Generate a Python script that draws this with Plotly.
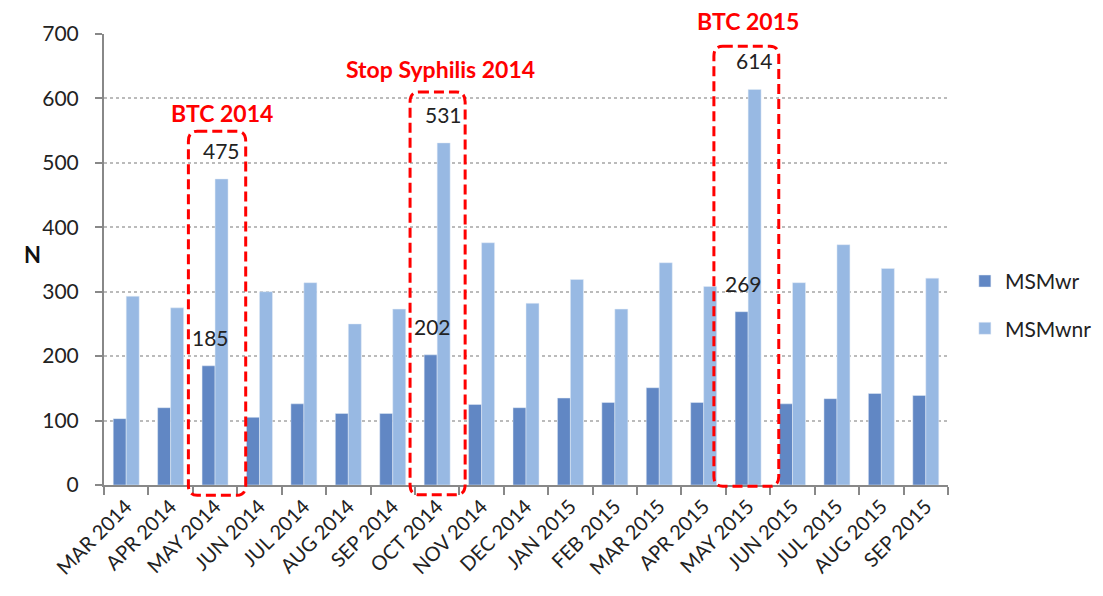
import plotly.graph_objects as go

# ---------------- data ----------------
months = ["MAR 2014", "APR 2014", "MAY 2014", "JUN 2014", "JUL 2014", "AUG 2014",
          "SEP 2014", "OCT 2014", "NOV 2014", "DEC 2014", "JAN 2015", "FEB 2015",
          "MAR 2015", "APR 2015", "MAY 2015", "JUN 2015", "JUL 2015", "AUG 2015",
          "SEP 2015"]
msm_wr = [103, 120, 185, 105, 126, 111, 111, 202, 125, 120, 135, 128,
          151, 128, 269, 126, 134, 142, 139]
msm_wnr = [293, 275, 475, 300, 314, 250, 273, 531, 376, 282, 319, 273,
           345, 308, 614, 314, 373, 336, 321]
y_ticks = [0, 100, 200, 300, 400, 500, 600, 700]

# campaigns highlighted with dashed boxes
campaigns = ["BTC 2014", "Stop Syphilis 2014", "BTC 2015"]
campaign_months = ["MAY 2014", "OCT 2014", "MAY 2015"]

# ---------------- style / layout config ----------------
FONT = "Lato, 'Open Sans', sans-serif"
DARK = "#6187C4"
LIGHT = "#98B9E3"
RED = "#FF0000"
Y_MAX = 700
# box geometry per campaign: (left offset, right offset, top value, bottom value, label y)
box_geo = [(-0.60, 0.69, 549, -16, 578),
           (-0.61, 0.63, 610, -15, 645),
           (-0.77, 0.69, 681, -2, 720)]
label_dx = [0.16, 0.08, 0.0]

fig = go.Figure()
fig.add_trace(go.Bar(x=months, y=msm_wr, name="MSMwr", marker_color=DARK,
                     legendgroup="a"))
fig.add_trace(go.Bar(x=months, y=msm_wnr, name="MSMwnr", marker_color=LIGHT,
                     legendgroup="b"))


def rounded_box(x0, x1, y0, y1, rx, ry):
    return (f"M {x0+rx},{y1} L {x1-rx},{y1} Q {x1},{y1} {x1},{y1-ry} "
            f"L {x1},{y0+ry} Q {x1},{y0} {x1-rx},{y0} L {x0+rx},{y0} "
            f"Q {x0},{y0} {x0},{y0+ry} L {x0},{y1-ry} Q {x0},{y1} {x0+rx},{y1} Z")


shapes = []
annotations = []
BAR_SHIFT = 6.5  # px offset of each bar from category centre
for name, m, geo, dx in zip(campaigns, campaign_months, box_geo, label_dx):
    i = months.index(m)
    l, r, top, bot, ly = geo
    shapes.append(dict(type="path", xref="x", yref="paper",
                       path=rounded_box(i + l, i + r, bot / Y_MAX, top / Y_MAX, 0.2, 0.022),
                       line=dict(color=RED, width=3, dash="10px,5px"),
                       layer="above"))
    annotations.append(dict(x=i + dx, y=ly / Y_MAX, xref="x", yref="paper",
                            text=f"<b>{name}</b>", showarrow=False,
                            font=dict(family=FONT, size=23, color=RED),
                            xanchor="center", yanchor="middle"))
    annotations.append(dict(x=m, y=msm_wr[i], xref="x", yref="y", text=str(msm_wr[i]),
                            showarrow=False, xshift=-BAR_SHIFT + 2, yshift=14,
                            yanchor="bottom", font=dict(family=FONT, size=21, color="#222")))
    annotations.append(dict(x=m, y=msm_wnr[i], xref="x", yref="y", text=str(msm_wnr[i]),
                            showarrow=False, xshift=BAR_SHIFT, yshift=14,
                            yanchor="bottom", font=dict(family=FONT, size=21, color="#222")))

annotations.append(dict(x=-0.097, y=0.51, xref="paper", yref="paper",
                        text="<b>N</b>", showarrow=False,
                        font=dict(family=FONT, size=22, color="#111")))

fig.update_layout(
    width=1087, height=580,
    margin=dict(l=96, r=147, t=26, b=103, autoexpand=False),
    paper_bgcolor="white", plot_bgcolor="white",
    barmode="group", bargap=0.415, bargroupgap=0,
    font=dict(family=FONT, size=20, color="#222"),
    showlegend=True,
    legend=dict(x=1.02, y=0.497, xanchor="left", yanchor="top",
                font=dict(family=FONT, size=21, color="#222"),
                tracegroupgap=17, traceorder="grouped",
                bgcolor="rgba(0,0,0,0)"),
    shapes=shapes, annotations=annotations,
    xaxis=dict(type="category", tickson="boundaries", ticks="outside", ticklen=8,
               tickcolor="#888", tickwidth=2, showline=True, linecolor="#888",
               linewidth=2, tickangle=-45, showgrid=False,
               tickfont=dict(family=FONT, size=20, color="#222")),
    yaxis=dict(range=[0, Y_MAX], tickvals=y_ticks, ticks="outside", ticklen=7,
               tickcolor="#888", tickwidth=2, showline=True, linecolor="#888",
               linewidth=2, showgrid=True, gridcolor="#BBBBBB", griddash="dot",
               gridwidth=1.5, zeroline=False, ticklabelstandoff=12,
               tickfont=dict(family=FONT, size=21, color="#222")),
)

fig.write_html("out.html")
